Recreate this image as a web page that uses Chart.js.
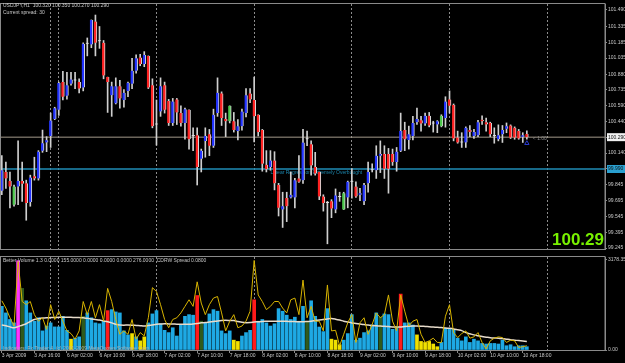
<!DOCTYPE html>
<html>
<head>
<meta charset="utf-8">
<script src="https://cdn.jsdelivr.net/npm/chart.js@4/dist/chart.umd.min.js"></script>
<style>
  html, body { margin: 0; padding: 0; background: #000; }
  #wrap { position: relative; width: 625px; height: 363px; overflow: hidden; background: #000; }
  canvas { position: absolute; left: 0; }
  #price { top: 0; }
  #vol { top: 253px; }
</style>
</head>
<body>
<div id="wrap">
  <canvas id="price" width="625" height="253"></canvas>
  <canvas id="vol" width="625" height="110"></canvas>
</div>
<script>
// USDJPY H1, 3 Apr 2009 - 10 Apr 2009
const symbol = 'USDJPY,H1';
const spreadPts = 30;

const openP = [99.784,99.962,99.876,99.654,99.824,99.876,99.855,99.679,99.922,99.901,
  100.163,100.240,100.301,100.461,100.548,100.809,100.680,100.794,100.825,100.809,
  100.757,101.170,101.164,101.379,101.194,101.179,100.856,100.686,100.609,100.769,
  100.640,100.726,100.794,100.917,101.040,100.979,101.056,100.779,100.409,100.532,
  100.779,100.631,100.424,100.646,100.517,100.424,100.548,100.301,100.307,100.086,
  100.255,100.317,100.209,100.517,100.702,100.461,100.440,100.440,100.347,100.394,
  100.517,100.702,100.640,100.501,100.357,100.030,100.009,100.070,99.839,99.608,
  99.716,99.722,99.722,99.901,99.885,100.270,100.224,100.009,99.962,99.731,
  99.670,99.685,99.608,99.725,99.608,99.722,99.870,99.824,99.747,99.685,
  99.855,99.978,99.978,100.116,100.132,100.132,100.132,100.055,100.163,100.357,
  100.264,100.301,100.431,100.449,100.418,100.492,100.418,100.409,100.394,100.471,
  100.646,100.594,100.286,100.240,100.240,100.357,100.301,100.307,100.455,100.431,
  100.424,100.301,100.270,100.317,100.369,100.400,100.378,100.347,100.295,100.320];
const highP = [100.116,100.055,99.962,99.839,100.255,100.055,99.885,99.932,100.101,100.163,
  100.357,100.295,100.517,100.572,100.809,100.911,100.902,100.902,100.902,100.840,
  101.179,101.225,101.395,101.441,101.333,101.201,100.856,100.809,100.849,100.825,
  100.739,100.809,101.034,101.065,101.071,101.096,101.056,100.840,100.640,100.849,
  100.809,100.646,100.655,100.655,100.585,100.563,100.548,100.378,100.378,100.178,
  100.378,100.363,100.554,100.849,100.717,100.517,100.585,100.523,100.455,100.554,
  100.748,100.748,100.856,100.501,100.363,100.163,100.163,100.153,99.855,99.771,
  99.771,99.962,99.901,100.116,100.363,100.347,100.255,100.147,99.962,99.747,
  99.685,99.701,99.802,99.771,99.771,99.876,99.993,99.870,99.808,99.855,
  100.055,100.039,100.209,100.255,100.209,100.184,100.178,100.193,100.517,100.431,
  100.394,100.486,100.563,100.486,100.517,100.523,100.440,100.446,100.501,100.671,
  100.726,100.603,100.347,100.332,100.387,100.400,100.363,100.449,100.492,100.471,
  100.431,100.378,100.406,100.400,100.424,100.406,100.387,100.363,100.332,100.350];
const lowP = [99.747,99.808,99.624,99.639,99.654,99.685,99.507,99.639,99.885,99.885,
  100.147,100.153,100.193,100.455,100.495,100.640,100.649,100.779,100.748,100.708,
  100.726,101.056,101.133,101.056,101.127,100.840,100.523,100.486,100.603,100.563,
  100.572,100.671,100.748,100.893,100.963,100.954,100.748,100.378,100.215,100.486,
  100.517,100.400,100.400,100.409,100.394,100.270,100.178,100.163,99.839,99.962,
  100.101,100.116,100.193,100.486,100.400,100.295,100.424,100.338,100.264,100.357,
  100.480,100.615,100.246,100.301,99.969,99.962,99.978,99.793,99.547,99.439,
  99.494,99.716,99.624,99.864,99.855,100.209,99.932,99.932,99.701,99.593,
  99.285,99.531,99.577,99.685,99.608,99.624,99.716,99.722,99.691,99.654,
  99.771,99.962,99.901,99.956,99.901,99.762,100.024,99.969,100.153,100.163,
  100.178,100.264,100.409,100.347,100.400,100.387,100.338,100.332,100.387,100.384,
  100.517,100.255,100.233,100.193,100.193,100.295,100.277,100.295,100.409,100.347,
  100.295,100.233,100.255,100.240,100.332,100.277,100.270,100.270,100.240,100.270];
const closeP = [99.978,99.901,99.824,99.824,99.876,99.852,99.670,99.910,99.901,100.153,
  100.233,100.261,100.446,100.563,100.800,100.671,100.779,100.834,100.825,100.748,
  101.170,101.170,101.395,101.179,101.194,100.871,100.809,100.769,100.769,100.655,
  100.708,100.803,100.917,101.034,100.979,101.065,100.757,100.394,100.409,100.769,
  100.548,100.424,100.625,100.523,100.424,100.554,100.270,100.301,100.009,100.163,
  100.301,100.209,100.501,100.708,100.471,100.440,100.585,100.357,100.394,100.532,
  100.686,100.646,100.486,100.338,100.039,99.987,100.070,99.855,99.624,99.639,
  99.639,99.747,99.885,99.870,100.240,100.270,100.024,99.947,99.731,99.670,
  99.670,99.617,99.741,99.725,99.762,99.870,99.870,99.731,99.762,99.839,
  99.962,99.978,100.116,100.132,99.993,99.993,100.055,100.153,100.347,100.270,
  100.317,100.424,100.461,100.418,100.492,100.400,100.418,100.440,100.492,100.625,
  100.585,100.277,100.240,100.240,100.378,100.338,100.338,100.431,100.440,100.409,
  100.317,100.301,100.307,100.357,100.394,100.286,100.286,100.277,100.307,100.290];
const greenCandles = [3, 56, 84, 108];

const priceTicks = [101.490,101.335,101.185,101.035,100.880,100.735,100.590,100.440,
  100.290,100.140,99.990,99.845,99.695,99.545,99.395,99.245];
const bidPrice = 100.290;
const levelPrice = 99.990;
const levelText = 'Linear Regression Extremely Overbought';
const levelTextBar = 66;
const arrowBar = 129;
const arrowPrice = 100.233;

// bar index of each day separator and of each time label
const daySeps = [12, 14, 38, 62, 86, 110, 134];
const timeBars = [0, 8, 16, 24, 32, 40, 48, 56, 64, 72, 80, 88, 96, 104, 112, 120, 128];
const timeLabels = ['3 Apr 2009','3 Apr 16:00','6 Apr 02:00','6 Apr 10:00','6 Apr 18:00',
  '7 Apr 02:00','7 Apr 10:00','7 Apr 18:00','8 Apr 02:00','8 Apr 10:00','8 Apr 18:00',
  '9 Apr 02:00','9 Apr 10:00','9 Apr 18:00','10 Apr 02:00','10 Apr 10:00','10 Apr 18:00'];

// Better Volume panel
const volume = [1530,1300,1070,950,3130,2160,1725,1300,1010,1130,
  670,840,950,810,810,1180,690,380,410,460,
  1180,1300,1130,950,920,1010,1380,1415,1335,1300,
  670,530,575,460,320,460,950,1265,1380,920,
  690,610,780,490,895,1180,1240,1220,1910,1010,
  950,1265,1415,1360,670,575,670,345,300,490,
  610,690,1760,1010,1070,950,840,920,1450,1360,
  1220,1070,1150,1010,1530,1010,1725,1180,805,645,
  1450,380,345,185,345,575,1240,345,415,610,
  670,880,1300,1150,1265,1240,725,805,1960,950,
  950,875,530,300,265,300,210,115,265,760,
  760,725,415,320,460,265,380,320,230,210,
  230,230,210,345,150,185,115,150,150,115];
const volLine = [1725,1470,1130,840,3105,1700,1590,1700,1240,1010,
  1130,725,1590,1070,1360,1010,670,575,380,670,
  1700,1240,1700,1130,1590,1010,2160,1700,1070,550,
  670,550,1070,380,610,495,1130,2185,2050,1590,
  1070,780,1070,1130,1300,1530,1760,1530,2390,1645,
  1240,1590,1820,1875,1300,670,1010,1240,780,840,
  1010,1360,3140,1930,1700,1415,1530,1700,1700,1470,
  1300,1760,1820,1240,2450,1130,1530,1010,1010,670,
  2280,670,690,150,550,955,1240,265,955,1130,
  550,900,1300,1130,1240,1930,1010,670,1930,1360,
  840,1010,1070,550,265,320,415,265,265,1185,
  1590,610,435,575,670,415,460,610,265,35,
  320,415,460,435,265,345,320,90,115,150];
const volAvg = [875,850,810,780,820,870,920,1000,1070,1100,
  1120,1130,1135,1140,1145,1150,1150,1145,1140,1135,
  1130,1110,1090,1070,1050,1020,990,950,900,875,
  870,875,870,860,850,840,860,880,900,910,
  920,915,910,905,900,900,900,910,930,955,
  960,980,1000,1020,1035,1040,1035,1030,1000,970,
  955,960,980,990,1000,1005,1010,1010,1010,1010,
  1005,1000,995,990,990,1000,1010,1030,1050,1070,
  1090,1100,1080,1050,1010,980,950,930,910,890,
  875,860,850,840,830,820,810,805,810,825,
  835,840,840,835,825,815,805,795,785,775,
  760,740,710,680,610,570,530,500,470,450,
  430,420,415,400,380,360,345,330,315,300];
const climaxBars = [26, 48, 62, 98];
const climaxChurnBars = [4];
const churnBars = [5, 20, 49, 75, 93];
const lowVolBars = [17, 32, 34, 35, 57, 58, 81, 82, 83, 102, 103, 104, 105, 106, 107];
const volTicks = [0, 3178.35];
const volInfo = 'Better Volume 1.3 0.0000 155.0000 0.0000 0.0000 0.0000 276.0000  CDRW Spread 0.0800';
const copyright = 'Indicators: Fx Trader 4, (c) 2001-2009 MetaQuotes Software Corp.';

const xMin = -0.2, xMax = 148.2;
const priceMin = 99.236, priceMax = 101.545;
const volTop = 3260;

const tinyFamily = '"Liberation Sans Narrow", "Liberation Sans", Arial, sans-serif';
const tiny = { family: tinyFamily, size: 5 };
const axisGray = '#8a8a8a';
const textGray = '#c8c8c8';

const last = closeP.length - 1;

function candleColor(i) {
  if (greenCandles.includes(i)) return '#4cc84c';
  if (closeP[i] > openP[i]) return '#2233ff';
  if (closeP[i] < openP[i]) return '#ff2222';
  return '#e0e0e0';
}
function volColor(i) {
  if (climaxChurnBars.includes(i)) return '#ff33ff';
  if (climaxBars.includes(i)) return '#ff1a1a';
  if (churnBars.includes(i)) return '#2f5a1c';
  if (lowVolBars.includes(i)) return '#f0e000';
  return '#1ea9e4';
}

const frame = {
  id: 'frame',
  afterDraw(chart) {
    const { ctx, chartArea: a } = chart;
    ctx.save();
    ctx.strokeStyle = axisGray;
    ctx.lineWidth = 1;
    ctx.strokeRect(a.left - 0.5, a.top - 0.5, a.right - a.left + 0.5, a.bottom - a.top + 1);
    ctx.restore();
  }
};

const priceTexts = {
  id: 'priceTexts',
  beforeDatasetsDraw(chart) {
    const { ctx } = chart;
    const x = chart.scales.x, y = chart.scales.y;
    ctx.save();
    ctx.font = '5px ' + tinyFamily;
    ctx.fillStyle = '#1b86ad';
    ctx.textBaseline = 'top';
    ctx.fillText(levelText, x.getPixelForValue(levelTextBar), y.getPixelForValue(levelPrice) + 1);
    ctx.restore();
  },
  afterDraw(chart) {
    const { ctx, chartArea: a } = chart;
    const x = chart.scales.x, y = chart.scales.y;
    ctx.save();
    ctx.font = '5px ' + tinyFamily;
    ctx.fillStyle = textGray;
    ctx.textBaseline = 'middle';
    const ohlc = [openP[last], highP[last], lowP[last], closeP[last]].map(v => v.toFixed(3)).join(' ');
    ctx.fillText(symbol + '  ' + ohlc, a.left + 2, a.top + 2);
    ctx.fillText('Current spread: ' + spreadPts, a.left + 2, a.top + 8.5);
    ctx.fillStyle = '#8c8c8c';
    ctx.fillText('< 1:00', x.getPixelForValue(last) + 6, y.getPixelForValue(bidPrice) + 1);
    ctx.font = 'bold 17px "Liberation Sans", Arial, sans-serif';
    ctx.fillStyle = '#78f000';
    ctx.textAlign = 'right';
    ctx.textBaseline = 'alphabetic';
    ctx.fillText(closeP[last].toFixed(2), a.right - 1, a.bottom - 4.5);
    ctx.restore();
  }
};

const volTexts = {
  id: 'volTexts',
  afterDraw(chart) {
    const { ctx, chartArea: a } = chart;
    ctx.save();
    ctx.font = '5px ' + tinyFamily;
    ctx.fillStyle = textGray;
    ctx.textBaseline = 'middle';
    ctx.fillText(volInfo, a.left + 2, a.top + 4);
    ctx.fillStyle = '#b0b0b0';
    ctx.fillText(copyright, a.left + 2, a.bottom - 1.5);
    ctx.restore();
  }
};

const sepAxis = {
  type: 'linear', min: xMin, max: xMax, offset: false,
  afterBuildTicks: s => { s.ticks = daySeps.map(v => ({ value: v })); },
  afterFit: s => { s.height = 0; },
  ticks: { display: false, autoSkip: false },
  grid: { offset: false, color: '#8c8c8c', lineWidth: 1, drawTicks: false },
  border: { display: false, dash: [2, 2] }
};

new Chart(document.getElementById('price'), {
  data: {
    datasets: [
      {
        type: 'bar', label: 'body', order: 1, grouped: false,
        data: openP.map((o, i) => ({ x: i, y: [o, closeP[i]] })),
        backgroundColor: c => candleColor(c.dataIndex),
        borderColor: '#d8d8d8', borderWidth: { left: 0, right: 1, top: 0, bottom: 0 },
        borderSkipped: false, barThickness: 3, minBarLength: 1
      },
      {
        type: 'bar', label: 'wick', order: 2, grouped: false,
        data: lowP.map((l, i) => ({ x: i, y: [l, highP[i]] })),
        backgroundColor: '#cfcfcf', barThickness: 1
      },
      {
        type: 'line', label: 'bid', order: 3,
        data: [{ x: xMin, y: bidPrice }, { x: xMax, y: bidPrice }],
        borderColor: '#a39a8a', borderWidth: 1, pointRadius: 0
      },
      {
        type: 'line', label: 'level', order: 3,
        data: [{ x: xMin, y: levelPrice }, { x: xMax, y: levelPrice }],
        borderColor: '#1f8db6', borderWidth: 1.5, pointRadius: 0
      },
      {
        type: 'line', label: 'arrow', order: 0, showLine: false,
        data: [{ x: arrowBar, y: arrowPrice }],
        pointStyle: 'triangle', pointRadius: 2.5, borderColor: '#2a3cd0',
        backgroundColor: 'rgba(0,0,0,0)', borderWidth: 1
      }
    ]
  },
  options: {
    responsive: false, animation: false, devicePixelRatio: 1,
    layout: { autoPadding: false, padding: { left: 1, top: 2, right: 0, bottom: 1 } },
    plugins: { legend: { display: false }, tooltip: { enabled: false } },
    scales: {
      x: sepAxis,
      y: {
        position: 'right', min: priceMin, max: priceMax,
        afterBuildTicks: s => { s.ticks = priceTicks.map(v => ({ value: v })); },
        afterFit: s => { s.width = 20; },
        ticks: {
          font: tiny, padding: 1, autoSkip: false,
          callback: v => v.toFixed(3),
          color: c => (c.tick.value === bidPrice || c.tick.value === levelPrice) ? '#101010' : textGray,
          showLabelBackdrop: c => c.tick.value === bidPrice || c.tick.value === levelPrice,
          backdropColor: c => c.tick.value === bidPrice ? '#f0f0f0' : '#2aa0d0',
          backdropPadding: { top: 1, bottom: 1, left: 1, right: 3 }
        },
        grid: { drawOnChartArea: false, drawTicks: true, tickLength: 2, tickColor: axisGray },
        border: { display: true, color: axisGray }
      }
    }
  },
  plugins: [frame, priceTexts]
});

new Chart(document.getElementById('vol'), {
  data: {
    datasets: [
      {
        type: 'line', label: 'spread', order: 1,
        data: volLine.map((v, i) => ({ x: i, y: v })),
        borderColor: '#d8b400', borderWidth: 1, pointRadius: 0, tension: 0
      },
      {
        type: 'line', label: 'average', order: 2,
        data: volAvg.map((v, i) => ({ x: i, y: v })),
        borderColor: '#e8dccb', borderWidth: 1.5, pointRadius: 0, tension: 0.3
      },
      {
        type: 'bar', label: 'volume', order: 3, grouped: false,
        data: volume.map((v, i) => ({ x: i, y: v })),
        backgroundColor: c => volColor(c.dataIndex), barThickness: 3
      }
    ]
  },
  options: {
    responsive: false, animation: false, devicePixelRatio: 1,
    layout: { autoPadding: false, padding: { left: 1, top: 1, right: 0, bottom: 0 } },
    plugins: { legend: { display: false }, tooltip: { enabled: false } },
    scales: {
      x: {
        type: 'linear', min: xMin, max: xMax, offset: false,
        afterBuildTicks: s => {
          s.ticks = timeBars.concat(daySeps).sort((a, b) => a - b).map(v => ({ value: v }));
        },
        afterFit: s => { s.height = 13; },
        ticks: {
          font: tiny, color: textGray, align: 'start', padding: 0,
          autoSkip: false, maxRotation: 0, minRotation: 0,
          callback: v => { const k = timeBars.indexOf(v); return k >= 0 ? timeLabels[k] : ''; }
        },
        grid: {
          offset: false, lineWidth: 1, drawTicks: true, tickLength: 3,
          color: c => (c.tick && daySeps.includes(c.tick.value)) ? '#8c8c8c' : 'rgba(0,0,0,0)',
          tickColor: c => (c.tick && timeBars.includes(c.tick.value)) ? axisGray : 'rgba(0,0,0,0)'
        },
        border: { display: false, dash: [2, 2] }
      },
      y: {
        position: 'right', min: 0, max: volTop,
        afterBuildTicks: s => { s.ticks = volTicks.map(v => ({ value: v })); },
        afterFit: s => { s.width = 20; },
        ticks: { font: tiny, color: textGray, padding: 1, callback: v => v.toFixed(2) },
        grid: { drawOnChartArea: false, drawTicks: true, tickLength: 2, tickColor: axisGray },
        border: { display: true, color: axisGray }
      }
    }
  },
  plugins: [frame, volTexts]
});
</script>
</body>
</html>
